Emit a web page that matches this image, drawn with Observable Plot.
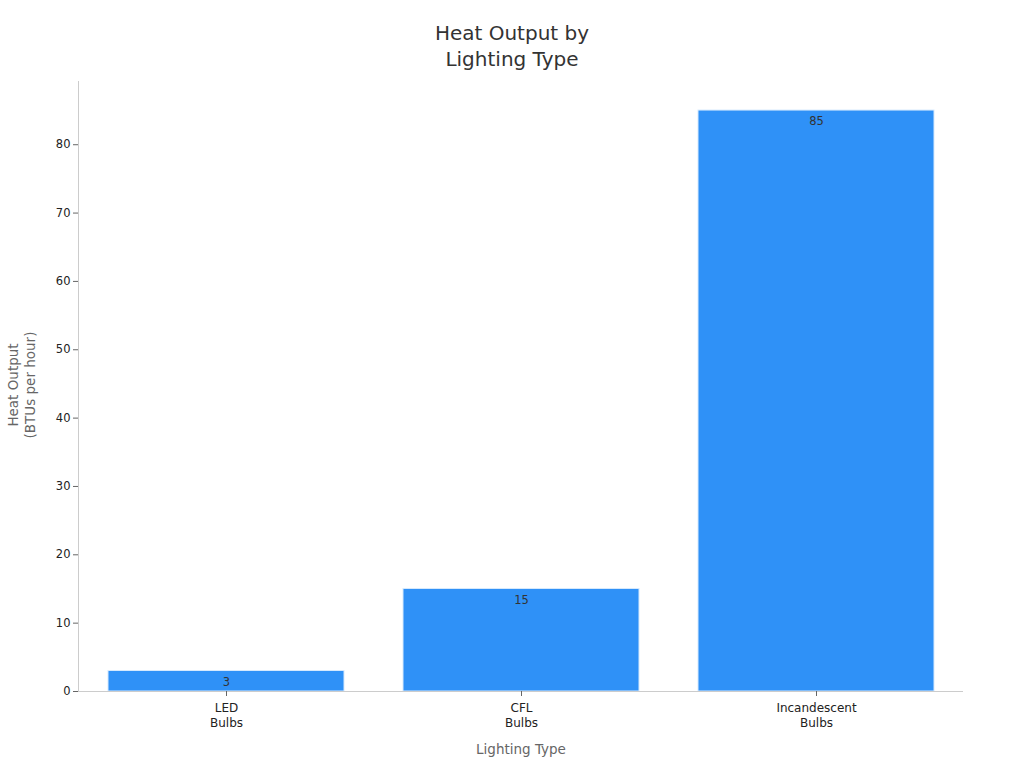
<!DOCTYPE html>
<html><head><meta charset="utf-8">
<script src="https://cdn.jsdelivr.net/npm/d3@7"></script>
<script src="https://cdn.jsdelivr.net/npm/@observablehq/plot@0.6"></script>
<style>
body{margin:0;background:#fff;font-family:"DejaVu Sans",sans-serif;}
#wrap{position:relative;width:1024px;height:768px;}
#title{position:absolute;left:0;top:20px;width:1024px;text-align:center;font-size:20px;line-height:26px;color:#333;}
#chart{position:absolute;left:0;top:81px;}
#ylab{position:absolute;left:22px;top:385px;width:300px;margin-left:-150px;margin-top:-17px;text-align:center;font-size:13.5px;line-height:17px;color:#666;transform:rotate(-90deg);white-space:nowrap;}
</style></head><body>
<div id="wrap"><div id="title">Heat Output by<br>Lighting Type</div><div id="chart"></div>
<div id="ylab">Heat Output<br>(BTUs per hour)</div></div>
<script>
const categories = ["LED\nBulbs", "CFL\nBulbs", "Incandescent\nBulbs"];
const values = [3, 15, 85];
const yTicks = [0, 10, 20, 30, 40, 50, 60, 70, 80];
const data = categories.map((c, i) => ({cat: c, v: values[i]}));

const plot = Plot.plot({
  width: 1024, height: 687,
  marginLeft: 78, marginRight: 61, marginTop: 0, marginBottom: 77,
  style: {fontFamily: "DejaVu Sans, sans-serif", fontSize: "11px", color: "#333", background: "#fff"},
  x: {domain: categories, padding: 0.2, paddingOuter: 0.1, label: null},
  y: {domain: [0, 89.25], label: null},
  marks: [
    Plot.barY(data, {x: "cat", y: "v", fill: "#2f91f7", stroke: "#d6e9fd", strokeWidth: 1}),
    Plot.text(data, {x: "cat", y: "v", text: d => String(d.v), dy: 11, fill: "#333", fontSize: 11.5}),
    Plot.frame({anchor: "left", stroke: "#cccccc", strokeWidth: 1}),
    Plot.ruleY([0], {stroke: "#cccccc", strokeWidth: 1}),
    Plot.axisY(yTicks, {ticks: yTicks, tickSize: 5, stroke: "#666", tickPadding: 3, label: null, fontSize: 11.5, fill: "#222"}),
    Plot.axisX({tickSize: 5, stroke: "#666", tickPadding: 4, label: null, fontSize: 12, lineHeight: 1.3, fill: "#222"}),
    Plot.text(["Lighting Type"], {frameAnchor: "bottom", dy: 62, fill: "#666", fontSize: 13.5})
  ]
});
document.getElementById("chart").appendChild(plot);
</script></body></html>
